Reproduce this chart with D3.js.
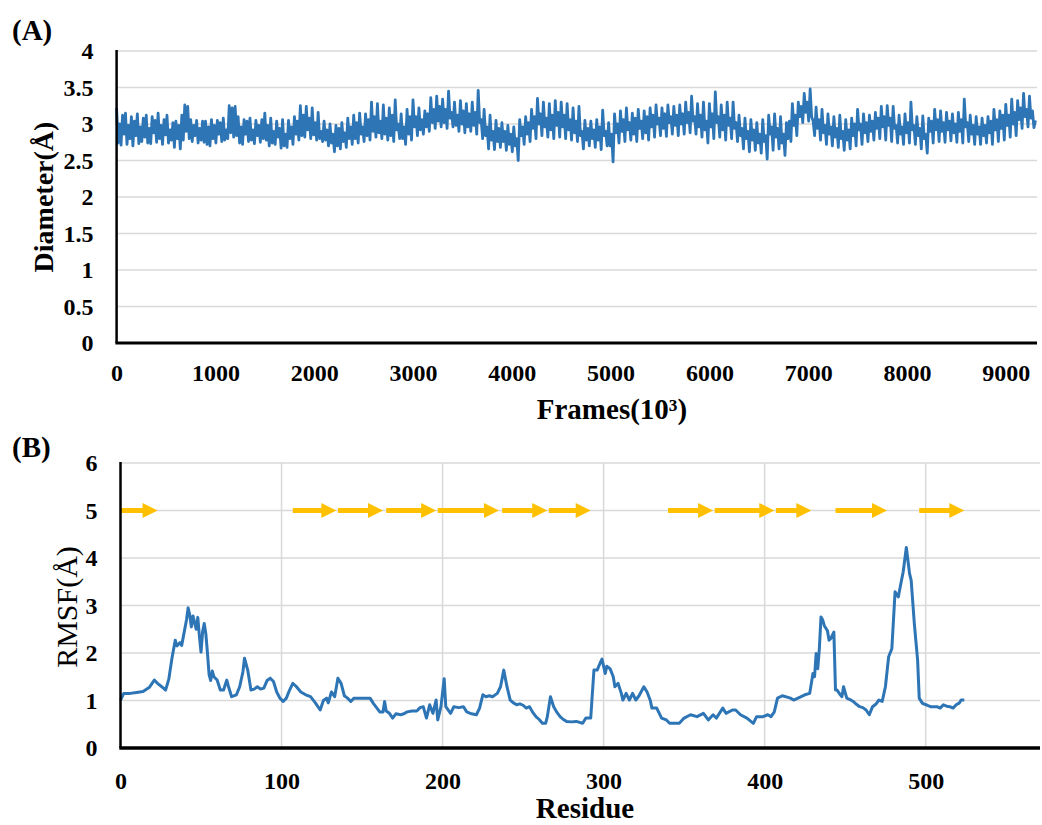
<!DOCTYPE html>
<html>
<head>
<meta charset="utf-8">
<script src="https://cdn.jsdelivr.net/npm/d3@7"></script>
<style>
  body { margin: 0; background: #fff; }
  text { font-family: "Liberation Serif", "Times New Roman", serif; }
</style>
</head>
<body>
<div id="chart"></div>
<script>
// ---- data ----
// (A) pore diameter, one sample every 15 frames (x 10^3); 20 samples per line = 300 frames
var frameStep = 15;
var diameter = [
  3.22, 2.74, 3.00, 2.71, 3.12, 2.86, 3.15, 2.72, 2.98, 2.80, 3.10, 2.70, 3.04, 2.84, 3.14, 2.73, 2.96, 2.76, 3.08, 2.82,
  3.12, 2.74, 2.94, 2.73, 3.10, 2.88, 3.05, 2.75, 3.15, 2.80, 2.98, 2.72, 3.06, 2.85, 3.12, 2.74, 2.92, 2.78, 3.02, 2.68,
  3.04, 2.80, 2.98, 2.66, 3.12, 2.78, 3.26, 2.90, 3.24, 2.80, 3.06, 2.76, 2.98, 2.84, 3.05, 2.74, 2.94, 2.78, 3.04, 2.75,
  3.04, 2.72, 2.96, 2.70, 3.06, 2.80, 2.98, 2.74, 3.05, 2.86, 3.02, 2.76, 3.08, 2.78, 2.92, 2.80, 3.25, 2.88, 3.22, 2.82,
  3.24, 2.84, 3.10, 2.74, 2.96, 2.72, 3.06, 2.86, 3.04, 2.76, 3.08, 2.78, 2.92, 2.73, 3.05, 2.84, 2.98, 2.75, 3.06, 2.80,
  3.15, 2.78, 2.98, 2.70, 3.08, 2.74, 2.90, 2.72, 3.04, 2.82, 2.94, 2.67, 3.06, 2.70, 2.86, 2.68, 3.05, 2.80, 2.96, 2.72,
  3.10, 2.86, 3.04, 2.78, 3.25, 2.84, 3.12, 2.82, 3.24, 2.92, 3.08, 2.80, 3.22, 2.85, 3.02, 2.78, 3.16, 2.80, 2.90, 2.76,
  3.04, 2.78, 2.92, 2.70, 3.00, 2.74, 2.86, 2.62, 2.98, 2.70, 2.94, 2.66, 3.02, 2.76, 2.88, 2.68, 3.08, 2.80, 2.96, 2.72,
  3.12, 2.80, 3.02, 2.74, 3.15, 2.86, 2.96, 2.76, 3.14, 2.84, 3.06, 2.78, 3.30, 2.90, 3.10, 2.82, 3.28, 2.88, 3.04, 2.80,
  3.26, 2.86, 3.08, 2.78, 3.22, 2.84, 3.12, 2.76, 3.33, 2.92, 3.00, 2.80, 3.14, 2.80, 2.96, 2.72, 3.20, 2.86, 3.10, 2.78,
  3.33, 2.96, 3.10, 2.84, 3.22, 2.92, 3.06, 2.86, 3.18, 2.96, 3.14, 2.90, 3.36, 3.02, 3.20, 2.94, 3.38, 3.04, 3.24, 2.96,
  3.34, 3.02, 3.20, 2.94, 3.45, 3.08, 3.16, 2.96, 3.30, 2.98, 3.12, 2.90, 3.32, 3.00, 3.18, 2.88, 3.28, 2.96, 3.14, 2.90,
  3.30, 2.98, 3.16, 2.86, 3.46, 3.02, 3.06, 2.80, 3.20, 2.84, 2.96, 2.66, 3.12, 2.78, 2.90, 2.65, 3.05, 2.76, 2.94, 2.68,
  3.02, 2.76, 2.90, 2.64, 2.98, 2.72, 2.86, 2.62, 2.96, 2.70, 2.80, 2.50, 3.06, 2.84, 2.96, 2.72, 3.10, 2.86, 3.02, 2.76,
  3.20, 2.94, 3.10, 2.80, 3.35, 3.00, 3.14, 2.84, 3.30, 2.96, 3.08, 2.82, 3.28, 2.92, 3.12, 2.80, 3.32, 2.98, 3.16, 2.82,
  3.30, 2.96, 3.12, 2.80, 3.28, 2.92, 3.06, 2.78, 3.22, 2.88, 3.04, 2.76, 3.24, 2.84, 2.90, 2.66, 3.05, 2.78, 2.94, 2.70,
  3.04, 2.80, 2.92, 2.68, 3.06, 2.78, 2.96, 2.65, 3.19, 2.84, 2.90, 2.70, 3.02, 2.70, 2.86, 2.48, 3.14, 2.88, 3.00, 2.74,
  3.18, 2.90, 3.06, 2.76, 3.22, 2.92, 3.02, 2.78, 3.15, 2.86, 3.08, 2.76, 3.20, 2.94, 3.04, 2.80, 3.18, 2.88, 3.10, 2.78,
  3.22, 2.96, 3.12, 2.82, 3.26, 3.00, 3.08, 2.84, 3.22, 2.94, 3.14, 2.83, 3.26, 3.02, 3.10, 2.86, 3.24, 2.98, 3.12, 2.84,
  3.26, 3.00, 3.14, 2.86, 3.30, 3.02, 3.16, 2.88, 3.38, 3.04, 3.10, 2.86, 3.28, 2.96, 3.12, 2.82, 3.30, 2.92, 3.04, 2.74,
  3.28, 2.96, 3.14, 2.80, 3.44, 3.02, 3.10, 2.82, 3.26, 2.92, 3.12, 2.78, 3.30, 2.98, 3.08, 2.80, 3.30, 2.94, 3.02, 2.76,
  3.12, 2.84, 2.94, 2.66, 3.08, 2.80, 2.90, 2.62, 3.06, 2.78, 2.92, 2.64, 3.02, 2.74, 2.86, 2.60, 3.06, 2.76, 2.84, 2.52,
  3.12, 2.86, 2.96, 2.64, 3.14, 2.82, 2.94, 2.66, 3.10, 2.74, 2.86, 2.57, 3.02, 2.80, 3.04, 2.76, 3.28, 2.98, 3.12, 2.84,
  3.30, 3.10, 3.24, 3.02, 3.42, 3.16, 3.30, 3.04, 3.48, 3.10, 3.04, 2.84, 3.23, 2.94, 3.06, 2.78, 3.20, 2.88, 2.98, 2.72,
  3.14, 2.86, 2.96, 2.70, 3.10, 2.82, 2.94, 2.68, 3.12, 2.80, 2.90, 2.64, 3.06, 2.78, 2.92, 2.66, 3.08, 2.84, 3.00, 2.70,
  3.20, 2.92, 3.00, 2.72, 3.14, 2.88, 3.02, 2.76, 3.12, 2.90, 3.04, 2.78, 3.16, 2.94, 3.08, 2.80, 3.24, 2.96, 3.10, 2.78,
  3.25, 2.98, 3.08, 2.76, 3.24, 2.94, 2.98, 2.74, 3.12, 2.86, 2.96, 2.72, 3.14, 2.88, 3.02, 2.74, 3.30, 2.92, 2.98, 2.72,
  3.10, 2.84, 2.94, 2.66, 3.11, 2.80, 2.86, 2.60, 3.08, 2.90, 3.04, 2.74, 3.20, 2.92, 3.06, 2.76, 3.18, 2.90, 3.02, 2.75,
  3.16, 2.92, 3.04, 2.77, 3.14, 2.88, 3.00, 2.75, 3.16, 2.90, 3.06, 2.74, 3.34, 2.96, 3.02, 2.76, 3.12, 2.86, 2.98, 2.72,
  3.10, 2.86, 2.96, 2.72, 3.08, 2.84, 2.98, 2.74, 3.10, 2.88, 3.04, 2.72, 3.20, 2.92, 3.06, 2.76, 3.18, 2.94, 3.12, 2.78,
  3.27, 2.98, 3.12, 2.82, 3.34, 3.00, 3.16, 2.84, 3.32, 3.06, 3.22, 2.94, 3.42, 3.10, 3.20, 2.96, 3.38, 3.08, 3.18, 2.95, 3.05
];
var frameMax = 9316;
var diamTicks = [0, 0.5, 1, 1.5, 2, 2.5, 3, 3.5, 4];
var frameTicks = [0, 1000, 2000, 3000, 4000, 5000, 6000, 7000, 8000, 9000];

// (B) RMSF per residue
var residues = [
  0, 2, 6, 10, 14, 18, 21, 23, 26, 28, 30, 32, 34, 35, 37, 38, 39, 41, 42, 43,
  44, 45, 47, 48, 49, 50, 51, 52, 53, 54, 55, 56, 57, 58, 60, 62, 64, 66, 67, 69,
  72, 74, 76, 77, 79, 81, 83, 85, 87, 89, 91, 93, 95, 97, 99, 101, 103, 105, 107, 109,
  112, 115, 118, 121, 124, 126, 128, 129, 131, 133, 135, 137, 139, 141, 143, 145, 150, 155, 157, 159,
  161, 163, 164, 165, 167, 169, 171, 174, 176, 178, 181, 184, 186, 188, 190, 192, 194, 196, 197, 199,
  201, 202, 205, 207, 210, 213, 215, 218, 221, 223, 225, 227, 229, 231, 234, 236, 238, 240, 242, 244,
  246, 248, 250, 252, 254, 256, 258, 260, 262, 264, 265, 267, 269, 271, 273, 275, 277, 280, 283, 287,
  289, 292, 294, 296, 298, 299, 301, 302, 304, 306, 307, 309, 311, 312, 314, 316, 318, 320, 322, 325,
  327, 329, 330, 333, 336, 339, 341, 347, 350, 354, 358, 362, 365, 368, 370, 374, 376, 380, 382, 385,
  389, 393, 395, 399, 402, 404, 406, 408, 411, 414, 416, 418, 422, 425, 428, 430, 431, 432, 433, 434,
  435, 436, 437, 439, 440, 441, 443, 444, 445, 447, 448, 449, 451, 453, 455, 457, 459, 461, 463, 465,
  467, 469, 471, 473, 475, 477, 479, 481, 483, 485, 486, 488, 490, 491, 493, 495, 496, 498, 501, 503,
  507, 509, 511, 513, 515, 517, 519, 521, 522, 524
];
var rmsf = [
  1.00, 1.15, 1.15, 1.17, 1.19, 1.28, 1.43, 1.36, 1.28, 1.22, 1.45, 1.90, 2.27, 2.15, 2.22, 2.16, 2.34, 2.70, 2.95, 2.80,
  2.55, 2.78, 2.50, 2.75, 2.35, 2.02, 2.45, 2.62, 2.40, 2.00, 1.55, 1.42, 1.62, 1.50, 1.43, 1.22, 1.22, 1.43, 1.30, 1.08,
  1.12, 1.29, 1.60, 1.89, 1.64, 1.22, 1.24, 1.29, 1.24, 1.26, 1.42, 1.47, 1.40, 1.18, 1.05, 0.98, 1.05, 1.22, 1.36, 1.30,
  1.18, 1.12, 1.08, 0.95, 0.80, 1.00, 1.05, 0.95, 1.18, 1.08, 1.47, 1.36, 1.10, 1.05, 0.98, 1.05, 1.05, 1.05, 0.94, 0.85,
  0.76, 0.76, 0.98, 0.78, 0.73, 0.63, 0.72, 0.70, 0.72, 0.76, 0.78, 0.78, 0.85, 0.87, 0.63, 0.91, 0.73, 1.01, 0.59, 0.87,
  1.46, 0.87, 0.73, 0.87, 0.85, 0.87, 0.76, 0.72, 0.70, 0.84, 1.12, 1.08, 1.10, 1.08, 1.15, 1.29, 1.64, 1.29, 1.01, 0.95,
  0.91, 0.93, 0.90, 0.84, 0.87, 0.75, 0.66, 0.60, 0.52, 0.52, 0.65, 1.08, 0.87, 0.75, 0.66, 0.60, 0.56, 0.55, 0.56, 0.52,
  0.63, 0.63, 1.64, 1.64, 1.80, 1.87, 1.57, 1.72, 1.67, 1.50, 1.29, 1.36, 1.15, 1.01, 1.15, 1.01, 1.15, 1.01, 1.10, 1.29,
  1.18, 1.00, 0.84, 0.84, 0.63, 0.59, 0.52, 0.52, 0.63, 0.70, 0.66, 0.73, 0.59, 0.70, 0.63, 0.84, 0.73, 0.80, 0.80, 0.70,
  0.63, 0.52, 0.66, 0.66, 0.70, 0.66, 0.76, 1.05, 1.10, 1.07, 1.05, 1.01, 1.07, 1.12, 1.15, 1.57, 1.50, 1.99, 1.67, 2.10,
  2.76, 2.70, 2.58, 2.47, 2.27, 2.30, 2.44, 1.22, 1.22, 1.12, 1.08, 1.29, 1.05, 1.02, 0.98, 0.92, 0.87, 0.85, 0.80, 0.70,
  0.87, 0.92, 1.01, 0.98, 1.29, 1.92, 2.09, 3.29, 3.18, 3.53, 3.70, 4.22, 3.67, 3.53, 2.60, 1.85, 1.05, 0.94, 0.90, 0.87,
  0.87, 0.84, 0.91, 0.88, 0.87, 0.84, 0.91, 0.95, 1.01, 1.01
];
// beta strands drawn as arrows at RMSF = 5 (start residue, end residue)
var strandStart = [0, 107, 135, 165, 197, 237, 266, 340, 369, 407, 444, 496];
var strandEnd   = [23, 134, 163, 196, 235, 265, 292, 368, 406, 429, 476, 524];
var rmsfTicks = [0, 1, 2, 3, 4, 5, 6];
var residueTicks = [0, 100, 200, 300, 400, 500];

var W = 1042, H = 825;
var blue = "#2e75b6", gold = "#ffc000", grid = "#d9d9d9";

var svg = d3.select("#chart").append("svg")
  .attr("width", W).attr("height", H);
svg.append("rect").attr("width", W).attr("height", H).attr("fill", "#fff");

// ================= panel A =================
var xA = d3.scaleLinear().domain([0, frameMax]).range([116.6, 1037]);
var yA = d3.scaleLinear().domain([0, 4]).range([343, 51]);

svg.append("g").selectAll("line")
  .data(diamTicks.filter(function(d) { return d > 0; }))
  .join("line")
  .attr("x1", xA(0)).attr("x2", xA(frameMax))
  .attr("y1", function(d) { return yA(d); })
  .attr("y2", function(d) { return yA(d); })
  .attr("stroke", grid).attr("stroke-width", 1.5);

var lineA = d3.line()
  .x(function(d, i) { return xA(i * frameStep); })
  .y(function(d) { return yA(d); });
svg.append("path")
  .datum(diameter)
  .attr("d", lineA)
  .attr("fill", "none")
  .attr("stroke", blue)
  .attr("stroke-width", 2.8)
  .attr("stroke-linejoin", "round");

var axAy = svg.append("g")
  .attr("transform", "translate(" + xA(0) + ",0)")
  .call(d3.axisLeft(yA).tickValues(diamTicks).tickSize(0).tickPadding(23)
    .tickFormat(function(d) { return d; }));
var axAx = svg.append("g")
  .attr("transform", "translate(0," + yA(0) + ")")
  .call(d3.axisBottom(xA).tickValues(frameTicks).tickSize(0).tickPadding(21)
    .tickFormat(function(d) { return d; }));
[axAy, axAx].forEach(function(g) {
  g.select(".domain").remove();
  g.selectAll("text").attr("font-size", 24).attr("font-weight", "bold")
    .attr("fill", "#000").style("font-family", "Liberation Serif");
});
svg.append("line").attr("x1", xA(0)).attr("x2", xA(0))
  .attr("y1", yA(4) - 1).attr("y2", yA(0))
  .attr("stroke", "#000").attr("stroke-width", 2.5);
svg.append("line").attr("x1", xA(0) - 1.2).attr("x2", xA(frameMax))
  .attr("y1", yA(0)).attr("y2", yA(0))
  .attr("stroke", "#000").attr("stroke-width", 3);

svg.append("text").attr("x", 12).attr("y", 40)
  .attr("font-size", 29).attr("font-weight", "bold").text("(A)");
svg.append("text")
  .attr("transform", "translate(53,197) rotate(-90)")
  .attr("text-anchor", "middle")
  .attr("font-size", 28).attr("font-weight", "bold").text("Diameter(Å)");
svg.append("text").attr("x", 612).attr("y", 419)
  .attr("text-anchor", "middle")
  .attr("font-size", 29).attr("font-weight", "bold").text("Frames(10³)");

// ================= panel B =================
var xB = d3.scaleLinear().domain([0, 571]).range([120.5, 1040]);
var yB = d3.scaleLinear().domain([0, 6]).range([748, 463]);

svg.append("g").selectAll("line")
  .data(rmsfTicks.filter(function(d) { return d > 0; }))
  .join("line")
  .attr("x1", xB(0)).attr("x2", xB(571))
  .attr("y1", function(d) { return yB(d); })
  .attr("y2", function(d) { return yB(d); })
  .attr("stroke", grid).attr("stroke-width", 1.5);
svg.append("g").selectAll("line")
  .data(residueTicks.filter(function(d) { return d > 0; }))
  .join("line")
  .attr("x1", function(d) { return xB(d); })
  .attr("x2", function(d) { return xB(d); })
  .attr("y1", yB(6)).attr("y2", yB(0))
  .attr("stroke", grid).attr("stroke-width", 1.5);

// strand arrows
var strands = d3.range(strandStart.length).map(function(i) {
  return {s: strandStart[i], e: strandEnd[i]};
});
var arrows = svg.append("g").selectAll("g").data(strands).join("g");
arrows.append("line")
  .attr("x1", function(d) { return xB(d.s); })
  .attr("x2", function(d) { return xB(d.e) - 12; })
  .attr("y1", yB(5)).attr("y2", yB(5))
  .attr("stroke", gold).attr("stroke-width", 5);
arrows.append("path")
  .attr("d", function(d) {
    var tx = xB(d.e), ty = yB(5);
    return "M" + tx + "," + ty + "L" + (tx - 15) + "," + (ty - 7.5) +
      "L" + (tx - 15) + "," + (ty + 7.5) + "Z";
  })
  .attr("fill", gold);

var lineB = d3.line()
  .x(function(d) { return xB(d[0]); })
  .y(function(d) { return yB(d[1]); });
svg.append("path")
  .datum(d3.zip(residues, rmsf))
  .attr("d", lineB)
  .attr("fill", "none")
  .attr("stroke", blue)
  .attr("stroke-width", 3)
  .attr("stroke-linejoin", "round");

var axBy = svg.append("g")
  .attr("transform", "translate(" + xB(0) + ",0)")
  .call(d3.axisLeft(yB).tickValues(rmsfTicks).tickSize(0).tickPadding(23)
    .tickFormat(function(d) { return d; }));
var axBx = svg.append("g")
  .attr("transform", "translate(0," + yB(0) + ")")
  .call(d3.axisBottom(xB).tickValues(residueTicks).tickSize(0).tickPadding(24)
    .tickFormat(function(d) { return d; }));
[axBy, axBx].forEach(function(g) {
  g.select(".domain").remove();
  g.selectAll("text").attr("font-size", 24).attr("font-weight", "bold")
    .attr("fill", "#000").style("font-family", "Liberation Serif");
});
svg.append("line").attr("x1", xB(0)).attr("x2", xB(0))
  .attr("y1", yB(6) - 1).attr("y2", yB(0))
  .attr("stroke", "#000").attr("stroke-width", 2.5);
svg.append("line").attr("x1", xB(0) - 1.2).attr("x2", xB(571))
  .attr("y1", yB(0)).attr("y2", yB(0))
  .attr("stroke", "#000").attr("stroke-width", 3.5);

svg.append("text").attr("x", 12).attr("y", 457)
  .attr("font-size", 29).attr("font-weight", "bold").text("(B)");
svg.append("text")
  .attr("transform", "translate(77,607) rotate(-90)")
  .attr("text-anchor", "middle")
  .attr("font-size", 30).text("RMSF(Å)");
svg.append("text").attr("x", 585).attr("y", 818)
  .attr("text-anchor", "middle")
  .attr("font-size", 29).attr("font-weight", "bold").text("Residue");
</script>
</body>
</html>
